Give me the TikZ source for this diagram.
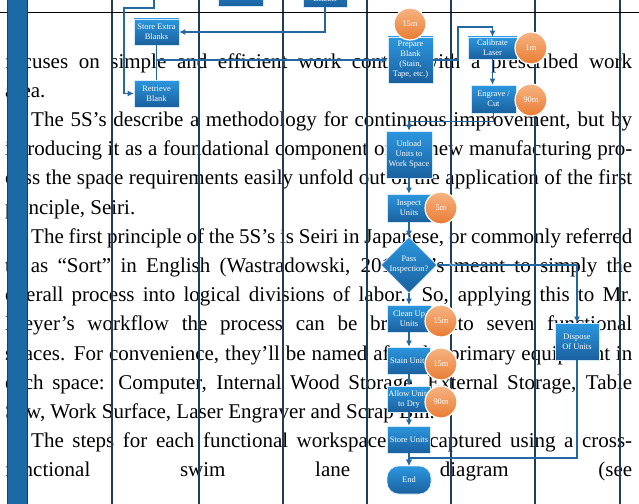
\documentclass[tikz,border=0pt]{standalone}
\usepackage{fontspec}
\setmainfont{Liberation Serif}
\usetikzlibrary{shapes.geometric,arrows.meta}
\definecolor{lanenavy}{HTML}{1E3E5C}
\definecolor{barblue}{HTML}{1B6AA3}
\definecolor{boxtop}{HTML}{2C97DF}
\definecolor{boxbot}{HTML}{1A609E}
\definecolor{linkblue}{HTML}{2468A2}
\definecolor{timetop}{HTML}{F6B482}
\definecolor{timebot}{HTML}{E97C34}
\tikzset{
	txt/.style={anchor=base west,inner sep=0pt,font=\fontsize{21}{25}\selectfont},
	lane/.style={lanenavy,line width=1.6pt},
	task/.style={draw=white!80!boxtop,line width=0.6pt,top color=boxtop,bottom color=boxbot,text=white,font=\fontsize{8.4}{10}\selectfont,align=center,inner sep=1pt,minimum width=45pt,minimum height=27pt},
	timer/.style={circle,draw=white,line width=1.2pt,top color=timetop,bottom color=timebot,text=white,font=\fontsize{8.4}{10}\selectfont,minimum size=32pt,inner sep=0pt},
	flow/.style={linkblue,line width=1.1pt,->,>={Latex[length=6pt,width=6pt]}},
}
\begin{document}
\begin{tikzpicture}[x=1pt,y=-1pt]
	\useasboundingbox (0,0) rectangle (639,503);
	\clip (0,0) rectangle (639,503);
	% body text
	\node[txt] (t1) at (5,68) {\makebox[627pt][s]{focuses on simple and efficient work contact with a prescribed work}};
	\node[txt] (t2) at (5,97.2) {area.};
	\node[txt] (t3) at (31,126.4) {\makebox[601pt][s]{The 5S's describe a methodology for continuous improvement, but by}};
	\node[txt] (t4) at (5,155.6) {\makebox[627pt][s]{introducing it as a foundational component of the new manufacturing pro-}};
	\node[txt] (t5) at (5,184.8) {\makebox[627pt][s]{cess the space requirements easily unfold out of the application of the first}};
	\node[txt] (t6) at (5,214) {principle, Seiri.};
	\node[txt] (t7) at (31,243.2) {\makebox[601pt][s]{The first principle of the 5S's is Seiri in Japanese, or commonly referred}};
	\node[txt] (t8) at (5,272.4) {\makebox[627pt][s]{to as ``Sort'' in English (Wastradowski, 2018) it's meant to simply the}};
	\node[txt] (t9) at (5,301.6) {\makebox[627pt][s]{overall process into logical divisions of labor. So, applying this to Mr.}};
	\node[txt] (t10) at (5,330.8) {\makebox[627pt][s]{Meyer's workflow the process can be broken into seven functional}};
	\node[txt] (t11) at (5,360) {\makebox[627pt][s]{spaces. For convenience, they'll be named after the primary equipment in}};
	\node[txt] (t12) at (5,389.2) {\makebox[627pt][s]{each space: Computer, Internal Wood Storage, External Storage, Table}};
	\node[txt] (t13) at (5,418.4) {Saw, Work Surface, Laser Engraver and Scrap Bin.};
	\node[txt] (t14) at (31,447.6) {\makebox[601pt][s]{The steps for each functional workspace are captured using a cross-}};
	\node[txt] (t15) at (5,476.8) {\makebox[627pt][s]{functional swim lane diagram (see}};
	% lanes
	\foreach \x in {112,199,283,367,451,535,620}
	\draw[lane] (\x,-2) -- (\x,505);
	\draw[black,line width=0.9pt] (0,12) -- (639,12);
	\draw[lanenavy,fill=barblue,line width=0.8pt] (7,-2) rectangle (27,505);
	% steps
	\node[task] (topa) at (240.5,-7) {};
	\node[task,minimum width=44pt,minimum height=28pt] (topb) at (325,-7) {\strut\\Blanks};
	\node[task,minimum height=26pt] (store) at (156.5,32) {Store Extra\\Blanks};
	\node[task] (retrieve) at (156.5,93.5) {Retrieve\\Blank};
	\node[task,minimum height=46pt] (prep) at (410.5,60) {Prepare\\Blank\\(Stain,\\Tape, etc.)};
	\node[task,minimum width=49pt,minimum height=22pt] (cal) at (492.5,48) {Calibrate\\Laser};
	\node[task,minimum height=28pt] (engr) at (493.5,99) {Engrave /\\Cut};
	\node[task,minimum width=46pt,minimum height=47pt] (unload) at (409,154.5) {Unload\\Units to\\Work Space};
	\node[task,minimum width=44pt,minimum height=28pt] (inspect) at (409,208) {Inspect\\Units};
	\node[task,diamond,aspect=1,inner sep=0pt,minimum width=56pt,minimum height=54pt] (pass) at (409,265) {Pass\\Inspection?};
	\node[task,minimum width=44pt] (clean) at (409,318.5) {Clean Up\\Units};
	\node[task,minimum width=43pt] (stain) at (409,360.5) {Stain Units};
	\node[task,minimum width=43pt,minimum height=26pt] (dry) at (409,399) {Allow Units\\to Dry};
	\node[task,minimum width=43pt] (storeu) at (409,439.5) {Store Units};
	\node[task,minimum width=44pt,minimum height=37pt] (dispose) at (577,341.5) {Dispose\\Of Units};
	\node[task,minimum width=44pt,minimum height=28pt,rounded corners=12pt] (finish) at (409,480) {End};
	% connectors
	\coordinate (src) at (154,-5);
	\coordinate (bend) at (124,8);
	\coordinate (calin) at (458,27);
	\coordinate (join) at (409,458);
	\draw[flow] (src) |- (bend) |- (retrieve.west);
	\draw[flow] (topb.south) |- (store.east);
	\draw[linkblue,line width=1.1pt] (store.south) -- (retrieve.north);
	\draw[flow] (retrieve.north) |- (prep.west);
	\draw[flow] (prep.east) -| (calin) -| (cal.north);
	\draw[flow] (cal.south) -- (cal.south |- engr.north);
	\draw[flow] (engr.south) -- ++(0,8) -| (unload.north);
	\draw[flow] (unload) -- (inspect);
	\draw[flow] (inspect) -- (pass);
	\draw[flow] (pass) -- (clean);
	\draw[flow] (clean) -- (stain);
	\draw[flow] (stain) -- (dry);
	\draw[flow] (dry) -- (storeu);
	\draw[flow] (storeu) -- (finish);
	\draw[flow] (pass.east) -| node[pos=0.055,text=white!70!linkblue,font=\fontsize{6.5}{7}\selectfont,inner sep=0pt] {No} (dispose.north);
	\draw[flow] (dispose.south) |- (join) -- (finish.north);
	% times
	\node[timer] (m1) at (410,24) {15m};
	\node[timer] (m2) at (531,48) {1m};
	\node[timer] (m3) at (531,100) {90m};
	\node[timer] (m4) at (441,208) {5m};
	\node[timer] (m5) at (441,321) {15m};
	\node[timer] (m6) at (441,364) {15m};
	\node[timer] (m7) at (441,402) {90m};
\end{tikzpicture}
\end{document}
